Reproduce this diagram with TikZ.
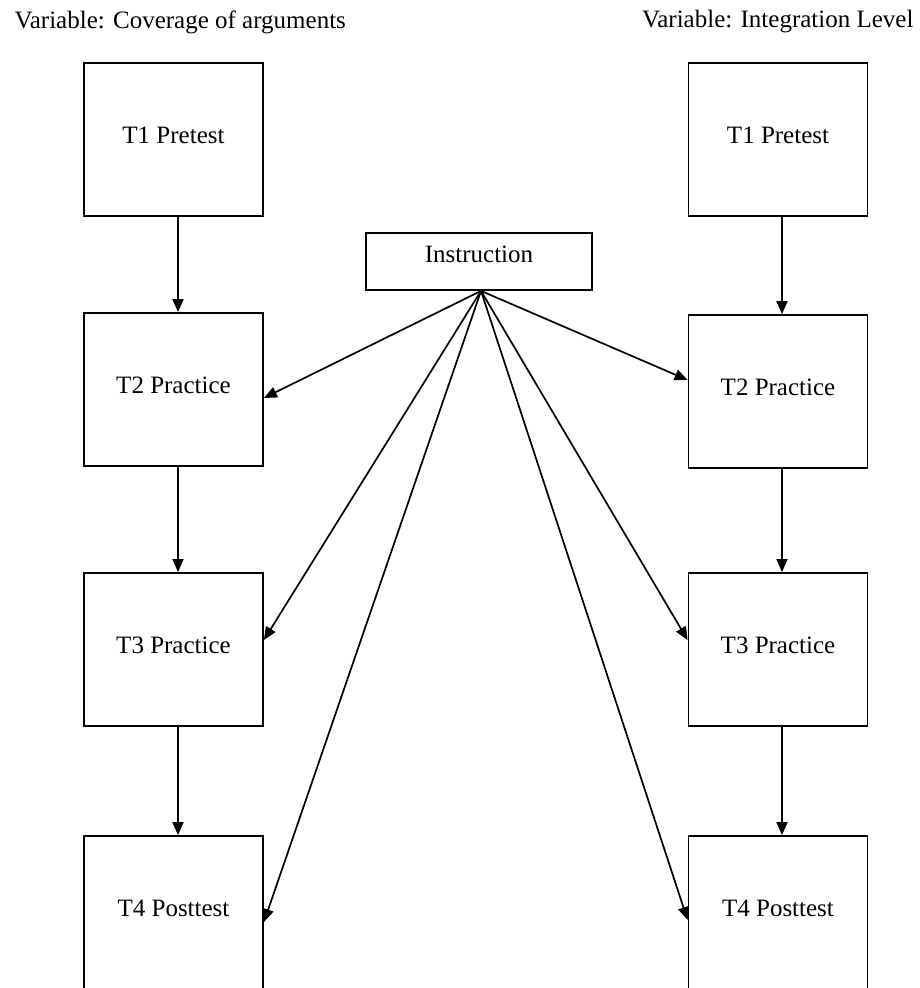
\documentclass[tikz,border=0pt]{standalone}
\usepackage{fontspec}
\setmainfont{Liberation Serif}
\usetikzlibrary{arrows.meta}
\begin{document}
\begin{tikzpicture}[x=1pt,y=-1pt,
  every node/.style={font=\fontsize{25}{29}\selectfont},
  tbox/.style={draw, line width=1.8pt, minimum width=179pt, minimum height=153pt, inner sep=0pt, text height=17pt, text depth=10pt},
  ibox/.style={draw, line width=1.8pt, minimum width=226pt, minimum height=57pt, inner sep=0pt, text height=17pt, text depth=16pt},
  conn/.style={line width=1.7pt, -{Triangle[length=13pt,width=11pt]}}
]
\useasboundingbox (0,0) rectangle (920,988);
\node[anchor=west] (lt) at (11,22) {Variable: Coverage of arguments};
\node[anchor=east] (rt) at (917,22) {Variable: Integration Level};

\node[tbox] (L1) at (173.5,139.5) {T1 Pretest};
\node[tbox] (L2) at (173.5,389.5) {T2 Practice};
\node[tbox] (L3) at (173.5,649.5) {T3 Practice};
\node[tbox] (L4) at (173.5,912.5) {T4 Posttest};

\node[tbox] (R1) at (778,139.5) {T1 Pretest};
\node[tbox] (R2) at (778,391.5) {T2 Practice};
\node[tbox] (R3) at (778,649.5) {T3 Practice};
\node[tbox] (R4) at (778,912.5) {T4 Posttest};

\node[ibox] (ins) at (479,261.5) {Instruction};

\draw[conn] ([xshift=4.5pt]L1.south) -- ([xshift=4.5pt]L2.north);
\draw[conn] ([xshift=4.5pt]L2.south) -- ([xshift=4.5pt]L3.north);
\draw[conn] ([xshift=4.5pt]L3.south) -- ([xshift=4.5pt]L4.north);
\draw[conn] ([xshift=4pt]R1.south) -- ([xshift=4pt]R2.north);
\draw[conn] ([xshift=4pt]R2.south) -- ([xshift=4pt]R3.north);
\draw[conn] ([xshift=4pt]R3.south) -- ([xshift=4pt]R4.north);

\coordinate (src) at ([xshift=2pt]ins.south);
\draw[conn] (src) -- ([yshift=-8.5pt]L2.east);
\draw[conn] (src) -- ([yshift=9.5pt]L3.east);
\draw[conn] (src) -- ([yshift=-9.5pt]L4.east);
\draw[conn] (src) -- ([yshift=11.5pt]R2.west);
\draw[conn] (src) -- ([yshift=9.5pt]R3.west);
\draw[conn] (src) -- ([yshift=-7.5pt]R4.west);
\end{tikzpicture}
\end{document}
